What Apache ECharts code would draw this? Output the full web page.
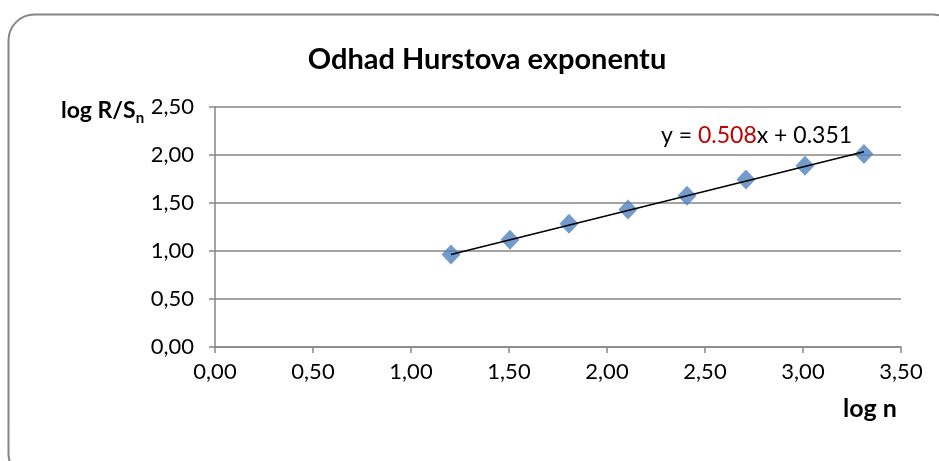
<!DOCTYPE html>
<html>
<head>
<meta charset="utf-8">
<title>Odhad Hurstova exponentu</title>
<script src="https://cdn.jsdelivr.net/npm/echarts@6/dist/echarts.min.js"></script>
<style>
  html, body { margin: 0; padding: 0; background: #fff; }
  #chart { width: 939px; height: 461px; }
</style>
</head>
<body>
<div id="chart"></div>
<script>
// log n and log R/S_n
const logN = [1.204, 1.505, 1.806, 2.107, 2.408, 2.709, 3.010, 3.311];
const logRS = [0.963, 1.118, 1.284, 1.433, 1.575, 1.744, 1.889, 2.010];
// linear trendline end points (as drawn)
const trendX = [1.204, 3.311];
const trendY = [0.963, 2.033];
const slopeText = '0.508';
const interceptText = '0.351';

const FONT = 'Lato, "Noto Sans", sans-serif';
const fmt = v => v.toFixed(2).replace('.', ',');

const chart = echarts.init(document.getElementById('chart'));

const option = {
  animation: false,
  textStyle: { fontFamily: FONT },
  title: {
    text: 'Odhad Hurstova exponentu',
    left: 482,
    top: 40,
    textAlign: 'center',
    textStyle: { fontFamily: FONT, fontSize: 29, fontWeight: 'bold', color: '#000' }
  },
  grid: { left: 215, right: 38, top: 107, bottom: 114 },
  xAxis: {
    type: 'value',
    min: 0,
    max: 3.5,
    interval: 0.5,
    axisLine: { show: true, lineStyle: { color: '#868686', width: 1.5 } },
    axisTick: { show: true, length: 6, lineStyle: { color: '#868686', width: 1.5 } },
    axisLabel: { color: '#000', fontSize: 22, margin: 14, formatter: fmt },
    splitLine: { show: false }
  },
  yAxis: {
    type: 'value',
    min: 0,
    max: 2.5,
    interval: 0.5,
    axisLine: { show: true, lineStyle: { color: '#868686', width: 1.5 } },
    axisTick: { show: true, length: 6, lineStyle: { color: '#868686', width: 1.5 } },
    axisLabel: { color: '#000', fontSize: 22, margin: 21, formatter: fmt },
    splitLine: { show: true, lineStyle: { color: '#868686', width: 1.5 } }
  },
  series: [
    {
      name: 'log R/S',
      type: 'scatter',
      symbol: 'diamond',
      symbolSize: [19, 20],
      itemStyle: { color: '#4F81BD' },
      data: logN.map((x, i) => [x, logRS[i]]),
      z: 2
    },
    {
      name: 'trend',
      type: 'line',
      symbol: 'none',
      lineStyle: { color: '#000', width: 1.5 },
      data: trendX.map((x, i) => [x, trendY[i]]),
      z: 3
    }
  ],
  graphic: [
    {
      type: 'rect',
      shape: { x: 8.5, y: 14.5, width: 950, height: 465, r: 26 },
      style: { fill: 'none', stroke: '#868686', lineWidth: 2 },
      silent: true
    },
    {
      type: 'text',
      left: 61,
      top: 99,
      style: {
        text: '{a|log R/S}{s|n}',
        rich: {
          a: { fontFamily: FONT, fontSize: 23, fontWeight: 'bold', fill: '#000' },
          s: { fontFamily: FONT, fontSize: 15, fontWeight: 'bold', fill: '#000', padding: [16, 0, 0, 0] }
        }
      }
    },
    {
      type: 'text',
      left: 843,
      top: 396,
      style: { text: 'log n', fontFamily: FONT, fontSize: 25, fontWeight: 'bold', fill: '#000' }
    },
    {
      type: 'text',
      left: 661,
      top: 124,
      style: {
        text: '{k|y = }{r|' + slopeText + '}{k|x + ' + interceptText + '}',
        rich: {
          k: { fontFamily: FONT, fontSize: 23, fill: '#000' },
          r: { fontFamily: FONT, fontSize: 23, fill: '#C00000' }
        }
      }
    }
  ]
};

chart.setOption(option);
</script>
</body>
</html>
